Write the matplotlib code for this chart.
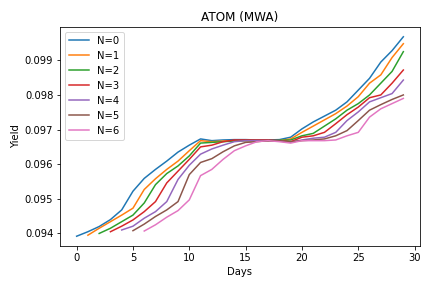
import matplotlib
matplotlib.use("Agg")
import matplotlib.pyplot as plt

# yield curves, series N starts at day N
n0 = [0.09392, 0.09405, 0.09420, 0.09440, 0.09468, 0.09522, 0.09559, 0.09585, 0.09609, 0.09635,
      0.09655, 0.09673, 0.09668, 0.09670, 0.09671, 0.09671, 0.09670, 0.09670, 0.09671, 0.09678,
      0.09702, 0.09722, 0.09739, 0.09756, 0.09780, 0.09814, 0.09848, 0.09895, 0.09928, 0.09968]
n1 = [0.09395, 0.09415, 0.09434, 0.09453, 0.09473, 0.09527, 0.09558, 0.09585, 0.09609, 0.09639,
      0.09668, 0.09665, 0.09667, 0.09668, 0.09668, 0.09668, 0.09667, 0.09668, 0.09673,
      0.09692, 0.09710, 0.09728, 0.09746, 0.09768, 0.09795, 0.09834, 0.09858, 0.09908, 0.09948]
n2 = [0.09400, 0.09415, 0.09434, 0.09453, 0.09488, 0.09541, 0.09573, 0.09595, 0.09624,
      0.09661, 0.09663, 0.09665, 0.09667, 0.09668, 0.09668, 0.09668, 0.09669, 0.09670,
      0.09682, 0.09689, 0.09710, 0.09731, 0.09756, 0.09775, 0.09800, 0.09834, 0.09868, 0.09925]
n3 = [0.09405, 0.09421, 0.09439, 0.09463, 0.09492, 0.09546, 0.09580, 0.09614,
      0.09650, 0.09655, 0.09665, 0.09670, 0.09670, 0.09670, 0.09670, 0.09668, 0.09665,
      0.09678, 0.09682, 0.09692, 0.09717, 0.09743, 0.09765, 0.09792, 0.09800, 0.09834, 0.09872]
n4 = [0.09410, 0.09421, 0.09444, 0.09463, 0.09492, 0.09556, 0.09597,
      0.09629, 0.09644, 0.09655, 0.09665, 0.09668, 0.09668, 0.09668, 0.09667, 0.09663,
      0.09670, 0.09675, 0.09678, 0.09692, 0.09726, 0.09751, 0.09780, 0.09792, 0.09804, 0.09843]
n5 = [0.09408, 0.09427, 0.09449, 0.09468, 0.09492, 0.09570,
      0.09605, 0.09616, 0.09636, 0.09653, 0.09663, 0.09665, 0.09668, 0.09668, 0.09665,
      0.09668, 0.09670, 0.09673, 0.09682, 0.09697, 0.09726, 0.09756, 0.09772, 0.09787, 0.09800]
n6 = [0.09407, 0.09425, 0.09447, 0.09466, 0.09497,
      0.09567, 0.09585, 0.09614, 0.09639, 0.09653, 0.09665, 0.09668, 0.09665, 0.09661,
      0.09668, 0.09668, 0.09668, 0.09670, 0.09682, 0.09692, 0.09736, 0.09760, 0.09775, 0.09790]

series = [n0, n1, n2, n3, n4, n5, n6]

fig, ax = plt.subplots(figsize=(6, 4), dpi=72)
for n, ys in enumerate(series):
    days = list(range(n, n + len(ys)))
    ax.plot(days, ys, label="N=" + str(n))

ax.set_title("ATOM (MWA)")
ax.set_xlabel("Days")
ax.set_ylabel("Yield")
ax.legend(loc="upper left")
fig.tight_layout()
fig.savefig("out.png")
